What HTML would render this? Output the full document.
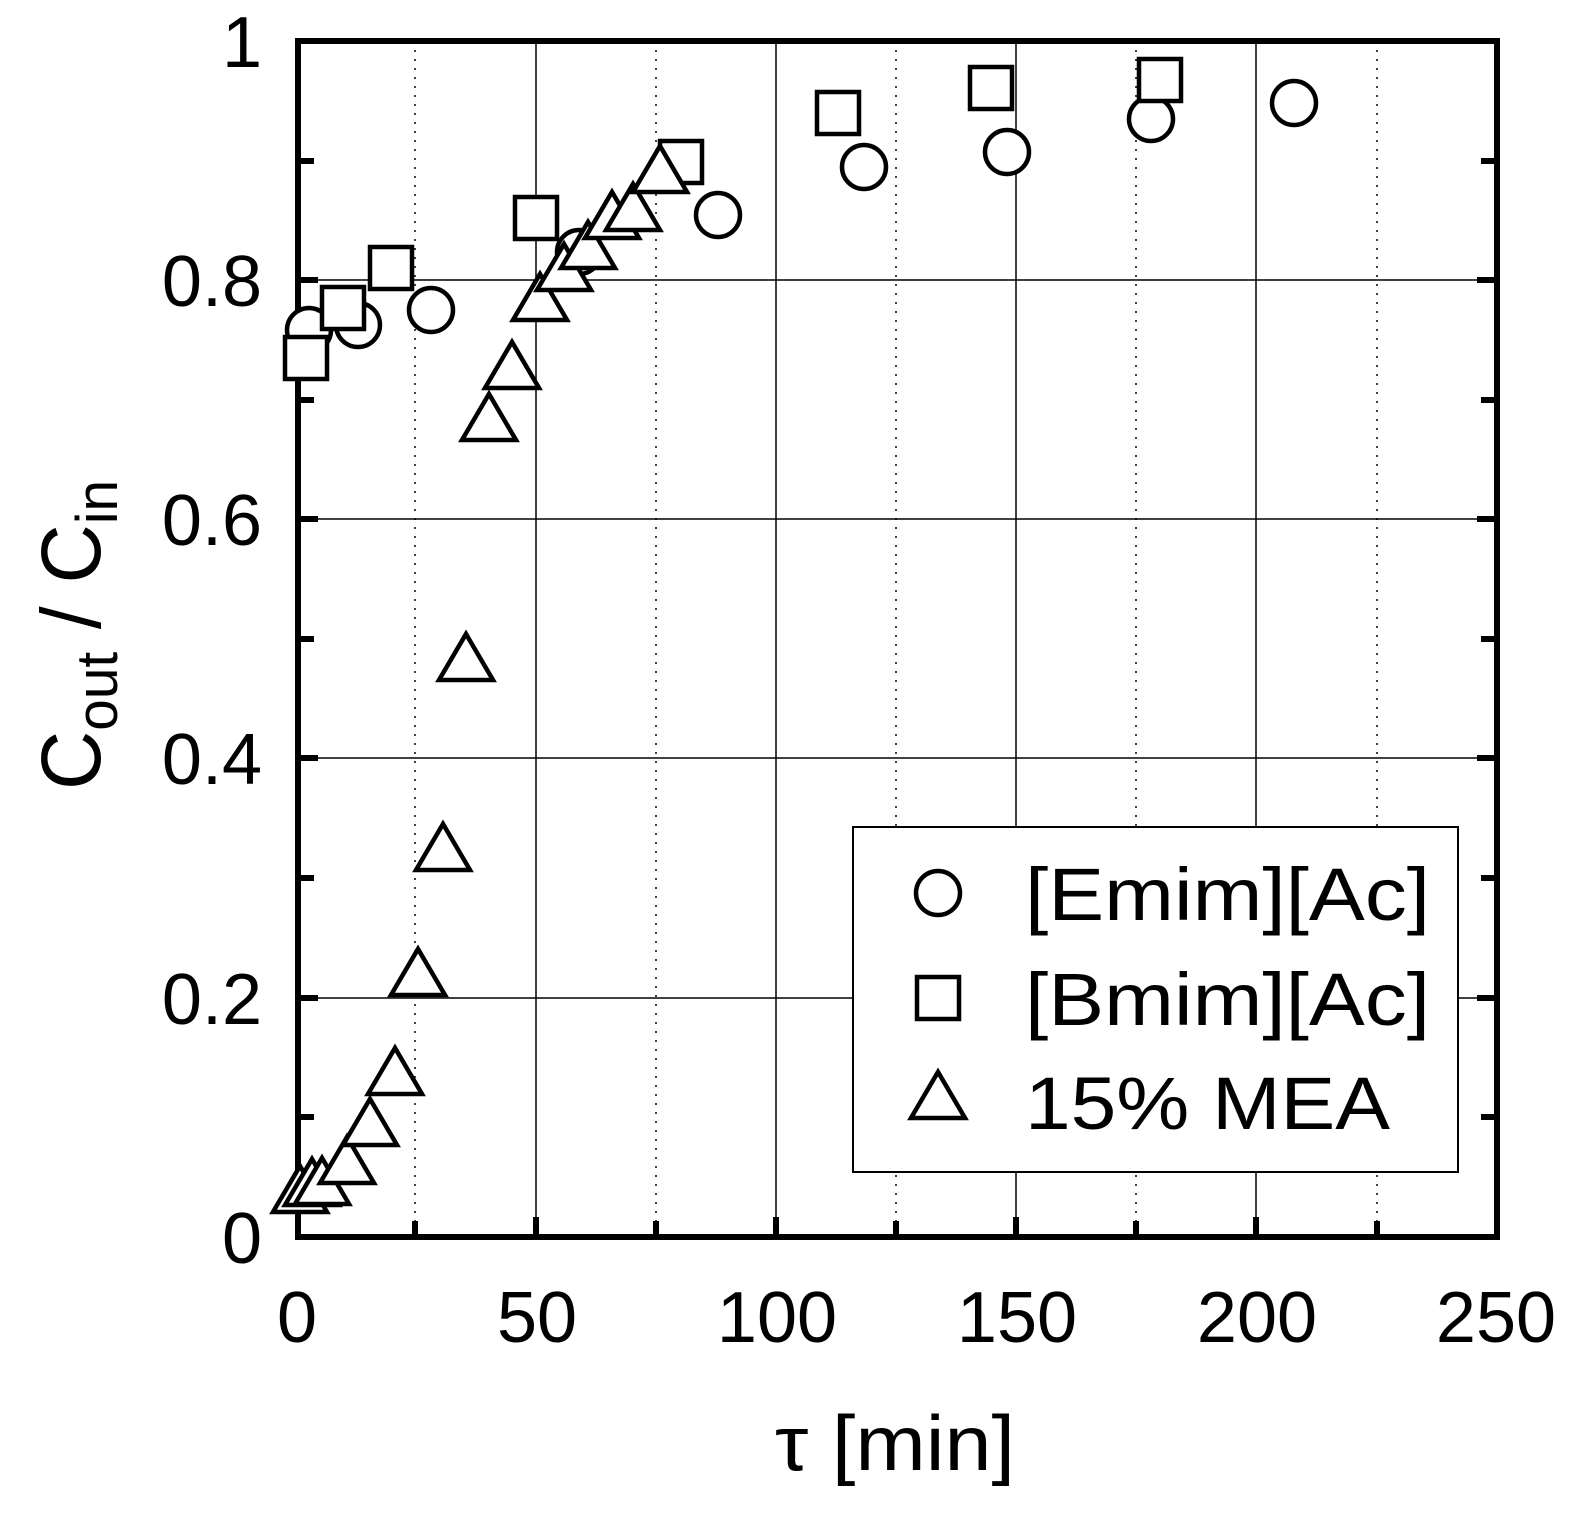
<!DOCTYPE html>
<html><head><style>html,body{margin:0;padding:0;background:#fff;overflow:hidden}svg{display:block}</style></head>
<body>
<svg width="1577" height="1527" viewBox="0 0 1577 1527" xmlns="http://www.w3.org/2000/svg" font-family="Liberation Sans, Arial, sans-serif">
<rect width="1577" height="1527" fill="#fff"/>
<g stroke="#000" stroke-width="1.5" stroke-dasharray="2 7">
<line x1="415" y1="41" x2="415" y2="1237"/>
<line x1="656" y1="41" x2="656" y2="1237"/>
<line x1="896" y1="41" x2="896" y2="1237"/>
<line x1="1136" y1="41" x2="1136" y2="1237"/>
<line x1="1377" y1="41" x2="1377" y2="1237"/>
</g>
<g stroke="#000" stroke-width="1.5">
<line x1="536" y1="41" x2="536" y2="1237"/>
<line x1="776" y1="41" x2="776" y2="1237"/>
<line x1="1016" y1="41" x2="1016" y2="1237"/>
<line x1="1256" y1="41" x2="1256" y2="1237"/>
<line x1="298" y1="280" x2="1497" y2="280"/>
<line x1="298" y1="519" x2="1497" y2="519"/>
<line x1="298" y1="758" x2="1497" y2="758"/>
<line x1="298" y1="998" x2="1497" y2="998"/>
</g>
<g stroke="#000" stroke-width="6">
<line x1="298" y1="161" x2="314" y2="161"/><line x1="298" y1="280" x2="318" y2="280"/>
<line x1="298" y1="400" x2="314" y2="400"/><line x1="298" y1="519" x2="318" y2="519"/>
<line x1="298" y1="639" x2="314" y2="639"/><line x1="298" y1="758" x2="318" y2="758"/>
<line x1="298" y1="878" x2="314" y2="878"/><line x1="298" y1="998" x2="318" y2="998"/>
<line x1="298" y1="1117" x2="314" y2="1117"/>
<line x1="1497" y1="161" x2="1481" y2="161"/><line x1="1497" y1="280" x2="1477" y2="280"/>
<line x1="1497" y1="400" x2="1481" y2="400"/><line x1="1497" y1="519" x2="1477" y2="519"/>
<line x1="1497" y1="639" x2="1481" y2="639"/><line x1="1497" y1="758" x2="1477" y2="758"/>
<line x1="1497" y1="878" x2="1481" y2="878"/><line x1="1497" y1="998" x2="1477" y2="998"/>
<line x1="1497" y1="1117" x2="1481" y2="1117"/>
<line x1="415" y1="1237" x2="415" y2="1221"/><line x1="536" y1="1237" x2="536" y2="1217"/>
<line x1="656" y1="1237" x2="656" y2="1221"/><line x1="776" y1="1237" x2="776" y2="1217"/>
<line x1="896" y1="1237" x2="896" y2="1221"/><line x1="1016" y1="1237" x2="1016" y2="1217"/>
<line x1="1136" y1="1237" x2="1136" y2="1221"/><line x1="1256" y1="1237" x2="1256" y2="1217"/>
<line x1="1377" y1="1237" x2="1377" y2="1221"/>
</g>
<rect x="298" y="41" width="1199" height="1196" fill="none" stroke="#000" stroke-width="6"/>
<g font-size="72" text-anchor="end">
<text x="262" y="67">1</text>
<text x="262" y="306">0.8</text>
<text x="262" y="545">0.6</text>
<text x="262" y="784">0.4</text>
<text x="262" y="1024">0.2</text>
<text x="262" y="1263">0</text>
</g>
<g font-size="72" text-anchor="middle">
<text x="297" y="1342">0</text>
<text x="537" y="1342">50</text>
<text x="777" y="1342">100</text>
<text x="1017" y="1342">150</text>
<text x="1257" y="1342">200</text>
<text x="1496" y="1342">250</text>
</g>
<text x="775" y="1470" font-size="78" textLength="240" lengthAdjust="spacingAndGlyphs">τ [min]</text>
<text transform="translate(100,790) rotate(-90)" font-size="84" textLength="310" lengthAdjust="spacingAndGlyphs">C<tspan font-size="58" dy="17">out</tspan><tspan dy="-17"> / C</tspan><tspan font-size="58" dy="17">in</tspan></text>
<g fill="#fff" stroke="#000" stroke-width="4.5">
<circle cx="309" cy="330" r="22"/><circle cx="358" cy="325" r="22"/><circle cx="431" cy="310" r="22"/>
<circle cx="579" cy="252" r="22"/><circle cx="718" cy="215" r="22"/><circle cx="864" cy="167" r="22"/>
<circle cx="1007" cy="152" r="22"/><circle cx="1151" cy="119" r="22"/><circle cx="1294" cy="103" r="22"/>
<rect x="285" y="337" width="42" height="42"/><rect x="322" y="287" width="42" height="42"/>
<rect x="370" y="247" width="42" height="42"/><rect x="515" y="197" width="42" height="42"/>
<rect x="660" y="141" width="42" height="42"/><rect x="817" y="92" width="42" height="42"/>
<rect x="970" y="67" width="42" height="42"/><rect x="1139" y="59" width="42" height="42"/>
</g>
<g fill="#fff" stroke="#000" stroke-width="4.5">
<polygon points="273,1212 300,1166 327,1212"/>
<polygon points="285,1205 312,1159 339,1205"/>
<polygon points="295,1204 322,1158 349,1204"/>
<polygon points="320,1183 347,1137 374,1183"/>
<polygon points="343,1145 370,1099 397,1145"/>
<polygon points="368,1094 395,1048 422,1094"/>
<polygon points="391,995 418,949 445,995"/>
<polygon points="416,870 443,824 470,870"/>
<polygon points="439,680 466,634 493,680"/>
<polygon points="462,440 489,394 516,440"/>
<polygon points="485,388 512,342 539,388"/>
<polygon points="513,320 540,274 567,320"/>
<polygon points="537,290 564,244 591,290"/>
<polygon points="561,268 588,222 615,268"/>
<polygon points="585,238 612,192 639,238"/>
<polygon points="606,230 633,184 660,230"/>
<polygon points="633,192 660,146 687,192"/>
</g>
<rect x="853" y="827" width="605" height="345" fill="#fff" stroke="#000" stroke-width="2"/>
<g fill="#fff" stroke="#000" stroke-width="4.5">
<circle cx="938" cy="893" r="22"/>
<rect x="917" y="977" width="42" height="42"/>
<polygon points="911,1118 938,1072 965,1118"/>
</g>
<g font-size="74">
<text x="1025" y="920" textLength="405" lengthAdjust="spacingAndGlyphs">[Emim][Ac]</text>
<text x="1025" y="1025" textLength="405" lengthAdjust="spacingAndGlyphs">[Bmim][Ac]</text>
<text x="1025" y="1129" textLength="365" lengthAdjust="spacingAndGlyphs">15% MEA</text>
</g>
</svg>
</body></html>
